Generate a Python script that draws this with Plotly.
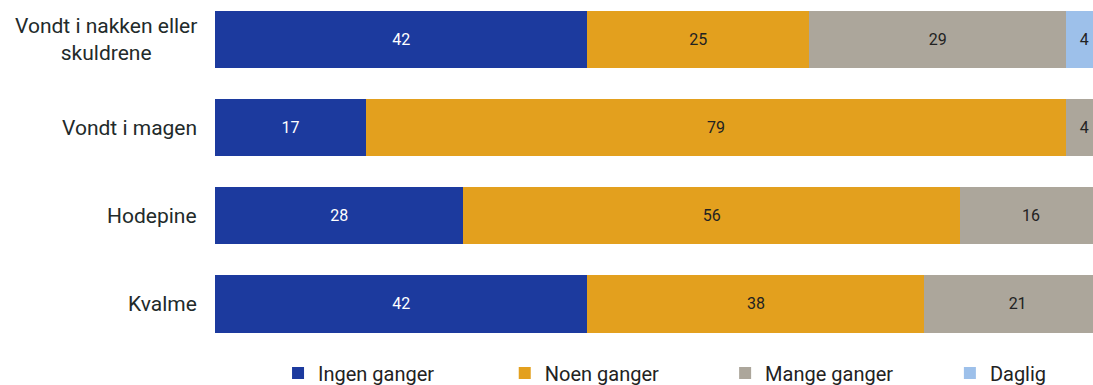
import plotly.graph_objects as go

categories = ["Vondt i nakken eller<br>skuldrene", "Vondt i magen", "Hodepine", "Kvalme"]
series_names = ["Ingen ganger", "Noen ganger", "Mange ganger", "Daglig"]
ingen = [42, 17, 28, 42]
noen = [25, 79, 56, 38]
mange = [29, 4, 16, 21]
daglig = [4, 0, 0, 0]
colors = ["#1c3a9e", "#e3a01e", "#aca69b", "#9dc0ea"]
text_colors = ["white", "#222222", "#222222", "#222222"]
legend_ids = ["legend", "legend2", "legend3", "legend4"]
legend_x = [0.0718, 0.330, 0.581, 0.837]

fig = go.Figure()
for name, vals, c, tc, lid in zip(series_names, [ingen, noen, mange, daglig], colors, text_colors, legend_ids):
    fig.add_trace(go.Bar(
        y=categories, x=vals, name=name, orientation="h",
        marker=dict(color=c, line=dict(width=0)),
        text=[str(v) if v else "" for v in vals],
        textposition="inside", insidetextanchor="middle", textangle=0,
        constraintext="none",
        textfont=dict(color=tc, size=16, family="Roboto"),
        legend=lid,
    ))

for cat in categories:
    fig.add_annotation(
        x=0, xref="paper", y=cat, yref="y", text=cat, showarrow=False,
        xanchor="right", xshift=-16, align="center",
        font=dict(size=21, color="#222a2a", family="Roboto"),
    )

layout_legends = {}
for lid, lx in zip(legend_ids, legend_x):
    layout_legends[lid] = dict(
        orientation="h", x=lx, xanchor="left",
        yref="container", y=0.031, yanchor="middle",
        font=dict(size=20, color="#222222", family="Roboto"),
        itemwidth=30, bgcolor="rgba(0,0,0,0)",
    )

fig.update_layout(
    barmode="stack", bargap=0.35,
    width=1093, height=385,
    margin=dict(l=215, r=0, t=0, b=37),
    plot_bgcolor="white", paper_bgcolor="white",
    xaxis=dict(range=[0, 99], visible=False, fixedrange=True),
    yaxis=dict(range=[3.5, -0.45], showticklabels=False, showgrid=False,
               zeroline=False, categoryorder="array", categoryarray=categories,
               fixedrange=True),
    showlegend=True,
    **layout_legends,
)

fig.write_html("out.html", config={"displayModeBar": False},
               post_script="document.body.style.margin='0';")
